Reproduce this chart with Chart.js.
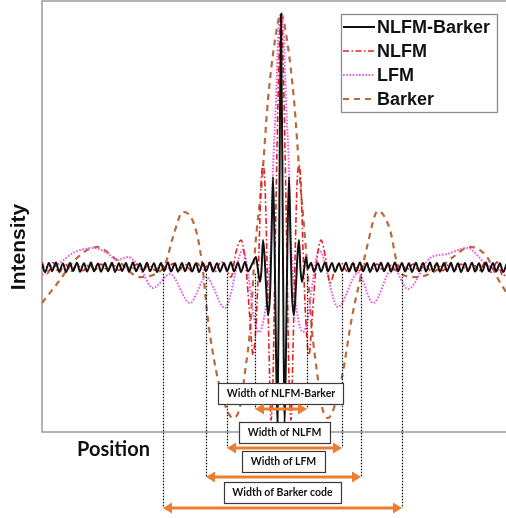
<!DOCTYPE html>
<html>
<head>
<meta charset="utf-8">
<script src="https://cdn.jsdelivr.net/npm/chart.js@4.4.1/dist/chart.umd.min.js"></script>
<style>
html, body { margin: 0; padding: 0; background: #fff; }
#wrap { position: relative; width: 506px; height: 518px; }
</style>
</head>
<body>
<div id="wrap"><canvas id="c"></canvas></div>
<script>
// Pulse-compression outputs: relative position vs. normalised intensity (peak = 100)
const seriesNames = ['NLFM-Barker', 'NLFM', 'LFM', 'Barker'];

const nlfmBarker = [
  [-239,1.2],[-236,-1.9],[-232,1.7],[-229,-1.6],[-225,1.9],[-222,-1.7],[-218,1.5],[-215,-1.9],
  [-211,1.7],[-208,-1.5],[-204,1.8],[-201,-1.8],[-197,1.6],[-194,-1.7],[-190,1.9],[-187,-1.6],
  [-183,1.5],[-180,-1.8],[-176,1.7],[-173,-1.6],[-169,1.8],[-166,-1.9],[-162,1.6],[-159,-1.5],
  [-155,1.7],[-152,-1.8],[-148,1.9],[-145,-1.6],[-141,1.5],[-138,-1.7],[-134,1.8],[-131,-1.6],
  [-127,1.6],[-124,-1.9],[-120,1.7],[-117,-1.5],[-113,1.9],[-110,-1.7],[-106,1.6],[-103,-1.8],
  [-99,1.7],[-96,-1.6],[-92,1.8],[-89,-1.7],[-85,1.6],[-82,-1.9],[-78,1.7],[-75,-1.6],
  [-71,1.9],[-68,-1.7],[-64,1.6],[-61,-1.8],[-57,1.7],[-54,-1.6],[-50,2.0],[-47,-1.7],
  [-43,1.8],[-40,-1.9],[-36,2.1],[-33,-1.6],[-29,1.2],
  [-25,4.0],[-23,-1.1],[-21,-5.8],[-19.5,-1.1],[-18,10.7],[-16.5,4.8],[-15,-7.0],[-13,-18.9],
  [-11,-10.9],[-9.5,10.7],[-8,35.6],[-6.5,10.7],[-5,-32.7],[-3.5,-62.2],[-2,2.8],[0,100],
  [2,2.8],[3.5,-62.2],[5,-32.7],[6.5,10.7],[8,35.6],[9.5,10.7],[11,-10.9],[13,-18.9],
  [15,-7.0],[16.5,4.8],[18,10.7],[19.5,-1.1],[21,-5.8],[23,-1.1],[25,4.0],
  [27,-0.5],[30,1.8],[33,-1.7],[37,1.6],[40,-1.8],[44,1.9],[47,-1.6],[51,1.7],[54,-1.8],
  [58,1.6],[61,-1.5],[65,1.8],[68,-1.7],[72,1.6],[75,-1.8],[79,1.9],[82,-1.6],[86,1.7],
  [89,-1.9],[93,1.6],[96,-1.7],[100,1.8],[103,-1.6],[107,1.7],[110,-1.8],[114,1.9],[117,-1.6],
  [121,1.7],[124,-1.7],[128,1.6],[131,-1.9],[135,1.8],[138,-1.6],[142,1.7],[145,-1.7],[149,1.9],
  [152,-1.6],[156,1.6],[159,-1.8],[163,1.7],[166,-1.6],[170,1.8],[173,-1.7],[177,1.6],[180,-1.9],
  [184,1.7],[187,-1.6],[191,1.8],[194,-1.7],[198,1.6],[201,-1.8],[205,1.9],[208,-1.6],[212,1.7],
  [215,-1.7],[219,1.6],[222,-1.9],[226,1.7]
];

const nlfm = [
  [-239,2.0],[-234,-2.6],[-228,1.8],[-222,-2.2],[-216,1.4],[-210,-1.6],[-204,1.2],[-198,-1.4],
  [-192,1.0],[-186,-1.2],[-180,1.2],[-174,-1.0],[-168,1.0],[-162,-1.2],[-156,1.0],[-150,-1.0],
  [-144,1.2],[-138,-1.0],[-132,1.0],[-126,-1.2],[-120,1.2],[-114,-1.0],[-108,1.4],[-102,-1.2],
  [-96,1.2],[-90,-1.4],[-84,1.6],[-78,-1.4],[-72,1.8],[-66,-1.8],[-60,2.2],[-55,-0.3],
  [-50,-3.9],[-45,6.0],[-40,10.7],[-35,-0.3],[-31,-20.8],[-28,-34.6],[-25,-22.8],[-22,6.8],
  [-20,32.4],[-18,40.3],[-16,32.4],[-14,2.8],[-12,-32.7],[-10,-60.3],[-8,-44.5],[-6,2.8],
  [-4,46.2],[-2,81.7],[0,100],[2,81.7],[4,46.2],[6,2.8],[8,-44.5],[10,-60.3],[12,-32.7],
  [14,2.8],[16,32.4],[18,40.3],[20,32.4],[22,6.8],[25,-22.8],[28,-34.6],[31,-20.8],[35,-0.3],
  [40,10.7],[45,2.8],[49,-6.2],[54,-1.1],
  [60,1.8],[66,-1.6],[72,1.6],[78,-1.4],[84,1.4],[90,-1.2],[96,1.2],[102,-1.2],[108,1.0],
  [114,-1.2],[120,1.2],[126,-1.0],[132,1.2],[138,-1.4],[144,1.4],[150,-1.6],[156,1.6],[162,-1.4],
  [168,1.4],[174,-1.2],[180,1.2],[186,-1.4],[192,1.4],[198,-1.6],[204,1.8],[210,-2.0],[216,2.0],
  [222,-3.5],[226,-2.0]
];

const lfm = [
  [-239,-3.1],[-221,1.7],[-208,5.6],[-188,7.6],[-174,5.6],[-164,2.8],[-153,4.0],[-141,-0.3],
  [-128,-8.2],[-111,-2.7],[-91,-14.1],[-75,-3.9],[-56,-16.1],[-38,6.8],[-32,-5.0],[-27,-20.0],
  [-22,-25.6],[-17,-20.0],[-13,-7.0],[-10,10.7],[-8,38.3],[-5,66.0],[-3,89.6],[0,100],
  [3,89.6],[5,66.0],[8,38.3],[10,10.7],[13,-7.0],[17,-20.0],[22,-25.6],[27,-20.0],[32,-5.0],
  [38,6.8],[57,-15.7],[77,-2.3],[92,-14.1],[112,-0.3],[127,-8.6],[149,3.6],[166,5.2],
  [186,7.6],[206,0.9],[225,-1.9]
];

const barker = [
  [-239,-14.1],[-221,-5.0],[-208,2.1],[-184,8.0],[-164,2.8],[-141,-3.9],[-124,-2.3],[-116,0.9],
  [-108,11.9],[-98,21.8],[-86,15.9],[-79,1.7],[-73,-20.8],[-65,-40.6],[-56,-54.3],[-48,-59.5],
  [-41,-55.1],[-36,-41.3],[-31,-24.8],[-26,6.8],[-19,34.4],[-13,66.0],[-6,89.6],[0,100],
  [6,89.6],[13,66.0],[19,34.4],[25,6.8],[31,-24.8],[36,-41.3],[41,-55.1],[47,-59.5],
  [54,-54.3],[61,-43.3],[71,-19.6],[79,-5.0],[86,8.0],[97,22.2],[109,14.7],[116,1.7],
  [122,-3.1],[136,-3.9],[156,-1.1],[172,4.0],[189,8.0],[206,4.0],[216,-3.9],[225,-9.8]
];

// Main-lobe width markers: left/right edge positions for each waveform
const widthLabels = ['Width of NLFM-Barker', 'Width of NLFM', 'Width of LFM', 'Width of Barker code'];
const widthEdges = [[-26, 26], [-54, 61], [-75, 80], [-118, 121]];
const markerTop = -2.6;

const axisTitles = { x: 'Position', y: 'Intensity' };

const styles = [
  { color: '#111111', width: 2.0, dash: [] },
  { color: '#E3201F', width: 1.6, dash: [6, 2.5, 1.5, 2.5] },
  { color: '#E85AE8', width: 2.0, dash: [1.6, 1.6] },
  { color: '#B86A3E', width: 2.2, dash: [6, 5] }
];
const seriesData = [nlfmBarker, nlfm, lfm, barker];

const datasets = seriesNames.map((name, i) => ({
  label: name,
  data: seriesData[i].map(p => ({ x: p[0], y: p[1] })),
  borderColor: styles[i].color,
  borderWidth: styles[i].width,
  borderDash: styles[i].dash,
  pointRadius: 0,
  fill: false,
  cubicInterpolationMode: 'monotone'
}));

const framePlugin = {
  id: 'frame',
  beforeDatasetsDraw(chart) {
    const { ctx, chartArea: a } = chart;
    ctx.save();
    ctx.strokeStyle = '#9b9b9b';
    ctx.lineWidth = 1.5;
    ctx.beginPath();
    ctx.moveTo(a.right + 2, a.top);
    ctx.lineTo(a.left, a.top);
    ctx.lineTo(a.left, a.bottom);
    ctx.lineTo(a.right + 2, a.bottom);
    ctx.stroke();
    ctx.restore();
  }
};

function drawArrow(ctx, x1, x2, y) {
  const head = 9, half = 5.5;
  ctx.beginPath();
  ctx.moveTo(x1 + head - 1, y);
  ctx.lineTo(x2 - head + 1, y);
  ctx.stroke();
  ctx.beginPath();
  ctx.moveTo(x1, y);
  ctx.lineTo(x1 + head, y - half);
  ctx.lineTo(x1 + head, y + half);
  ctx.closePath();
  ctx.fill();
  ctx.beginPath();
  ctx.moveTo(x2, y);
  ctx.lineTo(x2 - head, y - half);
  ctx.lineTo(x2 - head, y + half);
  ctx.closePath();
  ctx.fill();
}

const annotatePlugin = {
  id: 'annotate',
  afterDraw(chart) {
    const { ctx } = chart;
    const xs = chart.scales.x, ys = chart.scales.y;
    const rowY = [409, 448, 477, 508];
    ctx.save();

    // dotted edge markers
    ctx.strokeStyle = '#000';
    ctx.lineWidth = 1.2;
    ctx.setLineDash([1.5, 1.5]);
    const top = ys.getPixelForValue(markerTop);
    widthEdges.forEach((e, i) => {
      e.forEach(v => {
        const px = Math.round(xs.getPixelForValue(v)) + 0.5;
        ctx.beginPath();
        ctx.moveTo(px, top);
        ctx.lineTo(px, rowY[i]);
        ctx.stroke();
      });
    });
    ctx.setLineDash([]);

    // labelled boxes and double arrows
    ctx.font = '700 10.5px Lato';
    ctx.textAlign = 'center';
    ctx.textBaseline = 'middle';
    widthEdges.forEach((e, i) => {
      const x1 = xs.getPixelForValue(e[0]);
      const x2 = xs.getPixelForValue(e[1]);
      const cx = (x1 + x2) / 2;
      const cy = rowY[i] - 15.5;
      const w = ctx.measureText(widthLabels[i]).width + 17;
      const h = 21;
      ctx.fillStyle = '#fff';
      ctx.fillRect(cx - w / 2, cy - h / 2, w, h);
      ctx.strokeStyle = '#3a3a3a';
      ctx.lineWidth = 1.2;
      ctx.strokeRect(Math.round(cx - w / 2) + 0.5, Math.round(cy - h / 2) + 0.5, Math.round(w), h);
      ctx.fillStyle = '#111';
      ctx.fillText(widthLabels[i], cx, cy + 0.5);

      ctx.strokeStyle = '#ED7D31';
      ctx.fillStyle = '#ED7D31';
      ctx.lineWidth = 3;
      drawArrow(ctx, x1, x2, rowY[i]);
    });

    // legend
    const lx = 341, ly = 14, lw = 156, lh = 98;
    ctx.fillStyle = '#fff';
    ctx.fillRect(lx, ly, lw, lh);
    ctx.strokeStyle = '#8c8c8c';
    ctx.lineWidth = 1.3;
    ctx.strokeRect(lx + 0.5, ly + 0.5, lw, lh);
    ctx.font = '700 18px "Liberation Sans", Arial, sans-serif';
    ctx.textAlign = 'left';
    ctx.textBaseline = 'middle';
    seriesNames.forEach((name, i) => {
      const y = ly + 13 + i * 24;
      ctx.strokeStyle = styles[i].color;
      ctx.lineWidth = styles[i].width;
      ctx.setLineDash(styles[i].dash);
      ctx.beginPath();
      ctx.moveTo(lx + 2, y);
      ctx.lineTo(lx + 34, y);
      ctx.stroke();
      ctx.setLineDash([]);
      ctx.fillStyle = '#111';
      ctx.fillText(name, lx + 36, y + 1);
    });

    // axis titles
    ctx.fillStyle = '#111';
    ctx.font = '700 20px Lato';
    ctx.textAlign = 'left';
    ctx.textBaseline = 'alphabetic';
    ctx.fillText(axisTitles.x, 77, 456);

    ctx.save();
    ctx.translate(25, 247);
    ctx.rotate(-Math.PI / 2);
    ctx.font = '700 21px "Liberation Sans", Arial, sans-serif';
    ctx.textAlign = 'center';
    ctx.textBaseline = 'alphabetic';
    ctx.fillText(axisTitles.y, 0, 0);
    ctx.restore();

    ctx.restore();
  }
};

new Chart(document.getElementById('c'), {
  type: 'line',
  data: { datasets },
  options: {
    responsive: true,
    maintainAspectRatio: false,
    animation: false,
    layout: { padding: { left: 42, top: 1, right: 0, bottom: 86 } },
    plugins: { legend: { display: false }, tooltip: { enabled: false } },
    scales: {
      x: { type: 'linear', min: -239, max: 225, display: false },
      y: { type: 'linear', min: -65, max: 105, display: false }
    }
  },
  plugins: [framePlugin, annotatePlugin]
});
</script>
</body>
</html>
